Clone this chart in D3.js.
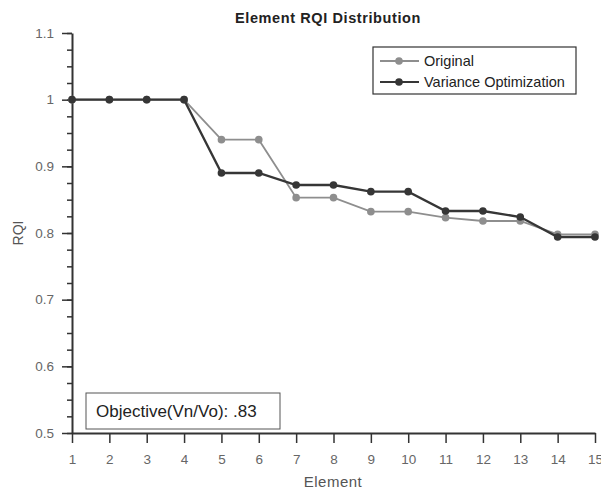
<!DOCTYPE html>
<html>
<head>
<meta charset="utf-8">
<script src="https://cdn.jsdelivr.net/npm/d3@7"></script>
<style>
  body { margin: 0; background: #fff; }
  text { font-family: "Liberation Sans", Arial, sans-serif; }
</style>
</head>
<body>
<svg width="601" height="492"></svg>
<script>
// DATA
const elements = [1, 2, 3, 4, 5, 6, 7, 8, 9, 10, 11, 12, 13, 14, 15];
const original = [1, 1, 1, 1, 0.94, 0.94, 0.853, 0.853, 0.832, 0.832, 0.823, 0.818, 0.818, 0.798, 0.798];
const varianceOpt = [1, 1, 1, 1, 0.89, 0.89, 0.872, 0.872, 0.862, 0.862, 0.833, 0.833, 0.824, 0.794, 0.794];
const yTicks = [0.5, 0.6, 0.7, 0.8, 0.9, 1, 1.1];
const seriesNames = ["Original", "Variance Optimization"];
const objectiveText = "Objective(Vn/Vo): .83";

const svg = d3.select("svg");

// CONSTANTS
const margin = { top: 33, left: 72, right: 6, bottom: 59 };
const width = +svg.attr("width");
const height = +svg.attr("height");
const innerHeight = height - margin.top - margin.bottom;

const colors = ["#8e8e8e", "#363636"];

// SCALES
const x = d3.scaleLinear().domain([1, 15]).range([0, 523]);
const y = d3.scaleLinear().domain([0.5, 1.1]).range([innerHeight, 0]);

const g = svg.append("g").attr("transform", `translate(${margin.left},${margin.top})`);

// title
svg.append("text")
  .attr("x", 328).attr("y", 23)
  .attr("text-anchor", "middle")
  .attr("font-size", 14.5).attr("font-weight", "bold")
  .attr("letter-spacing", 0.6)
  .attr("fill", "#222")
  .text("Element RQI Distribution");

// y axis: minor ticks then major
const yMinor = d3.range(0.5, 1.1001, 0.025);
g.append("g")
  .call(d3.axisLeft(y).tickValues(yMinor).tickSize(5).tickFormat(""))
  .call(a => a.select(".domain").remove())
  .selectAll("line").attr("stroke", "#333").attr("stroke-width", 1.5);

const yAxis = g.append("g")
  .call(d3.axisLeft(y).tickValues(yTicks).tickSize(10).tickSizeOuter(0).tickPadding(8).tickFormat(d3.format("")));
yAxis.select(".domain").attr("stroke", "#333").attr("stroke-width", 2);
yAxis.selectAll("line").attr("stroke", "#333").attr("stroke-width", 1.5);
yAxis.selectAll("text").attr("fill", "#666").attr("font-size", 13.5)
  .attr("font-family", "Liberation Sans, Arial, sans-serif");

// x axis
const xAxis = g.append("g")
  .attr("transform", `translate(0,${innerHeight})`)
  .call(d3.axisBottom(x).tickValues(elements).tickSize(10).tickSizeOuter(0).tickPadding(11));
xAxis.select(".domain").attr("stroke", "#333").attr("stroke-width", 2);
xAxis.selectAll("line").attr("stroke", "#333").attr("stroke-width", 1.5);
xAxis.selectAll("text").attr("fill", "#666").attr("font-size", 13.5)
  .attr("font-family", "Liberation Sans, Arial, sans-serif");

// axis titles
svg.append("text")
  .attr("x", 333).attr("y", 487)
  .attr("text-anchor", "middle")
  .attr("font-size", 15).attr("letter-spacing", 0.5).attr("fill", "#555")
  .text("Element");

svg.append("text")
  .attr("transform", `translate(23,${margin.top + innerHeight / 2}) rotate(-90)`)
  .attr("text-anchor", "middle")
  .attr("font-size", 14).attr("fill", "#555")
  .text("RQI");

// lines
const line = d3.line().x((d, i) => x(elements[i])).y(d => y(d));
[original, varianceOpt].forEach((series, k) => {
  g.append("path")
    .datum(series)
    .attr("fill", "none")
    .attr("stroke", colors[k])
    .attr("stroke-width", k === 0 ? 1.8 : 2.3)
    .attr("d", line);
  g.selectAll(null)
    .data(series)
    .enter()
    .append("circle")
    .attr("cx", (d, i) => x(elements[i]))
    .attr("cy", d => y(d))
    .attr("r", 3.8)
    .attr("fill", colors[k]);
});

// legend
const legend = svg.append("g").attr("transform", "translate(373,47)");
legend.append("rect")
  .attr("width", 203).attr("height", 47)
  .attr("fill", "#fff").attr("stroke", "#333").attr("stroke-width", 1.2);
seriesNames.forEach((name, k) => {
  const ly = 14 + k * 21;
  legend.append("line")
    .attr("x1", 7).attr("x2", 46).attr("y1", ly).attr("y2", ly)
    .attr("stroke", colors[k]).attr("stroke-width", 2);
  legend.append("circle")
    .attr("cx", 26).attr("cy", ly).attr("r", 3.8).attr("fill", colors[k]);
  legend.append("text")
    .attr("x", 51).attr("y", ly + 5)
    .attr("font-size", 14.5).attr("fill", "#222")
    .text(name);
});

// objective box
const obj = svg.append("g").attr("transform", "translate(86,393)");
obj.append("rect")
  .attr("width", 194).attr("height", 36)
  .attr("fill", "#fff").attr("stroke", "#555").attr("stroke-width", 1);
obj.append("text")
  .attr("x", 10).attr("y", 24)
  .attr("font-size", 17).attr("fill", "#222")
  .text(objectiveText);
</script>
</body>
</html>
